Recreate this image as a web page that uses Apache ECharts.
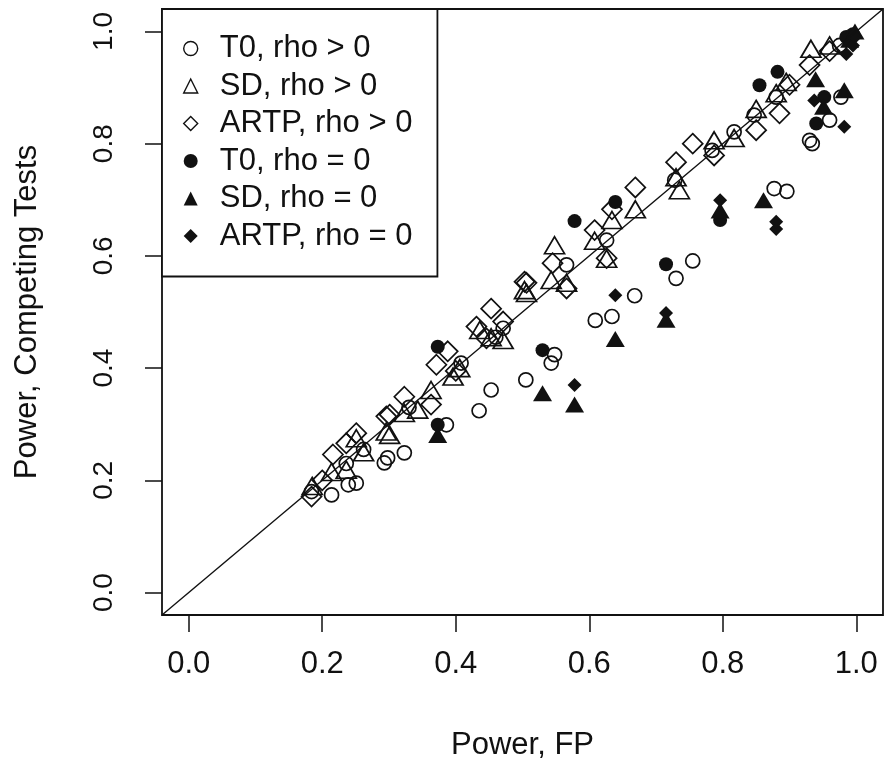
<!DOCTYPE html>
<html>
<head>
<meta charset="utf-8">
<script src="https://cdn.jsdelivr.net/npm/echarts@6/dist/echarts.min.js"></script>
<style>html,body{margin:0;padding:0;background:#fff}#c{width:884px;height:767px}</style>
</head>
<body>
<div id="c"></div>
<script>
// ---- data: [Power FP, Power competing test] ----
const t0RhoPos = [[0.184,0.180],[0.214,0.174],[0.236,0.230],[0.239,0.192],[0.251,0.195],[0.262,0.255],[0.293,0.231],[0.298,0.240],[0.323,0.249],[0.330,0.330],[0.386,0.299],[0.408,0.409],[0.435,0.324],[0.453,0.361],[0.460,0.455],[0.471,0.471],[0.505,0.379],[0.543,0.409],[0.548,0.424],[0.566,0.584],[0.609,0.485],[0.626,0.628],[0.634,0.492],[0.668,0.529],[0.728,0.735],[0.730,0.560],[0.755,0.591],[0.784,0.788],[0.817,0.821],[0.847,0.851],[0.877,0.720],[0.880,0.883],[0.896,0.715],[0.930,0.806],[0.934,0.800],[0.960,0.842],[0.977,0.883],[0.975,0.975]];
const sdRhoPos = [[0.185,0.190],[0.214,0.215],[0.236,0.219],[0.251,0.275],[0.262,0.250],[0.296,0.287],[0.301,0.281],[0.323,0.320],[0.343,0.326],[0.363,0.361],[0.396,0.385],[0.406,0.400],[0.436,0.468],[0.453,0.455],[0.471,0.450],[0.503,0.539],[0.506,0.534],[0.543,0.557],[0.548,0.619],[0.566,0.552],[0.608,0.627],[0.626,0.595],[0.634,0.664],[0.669,0.683],[0.730,0.740],[0.735,0.717],[0.787,0.806],[0.817,0.810],[0.850,0.862],[0.880,0.890],[0.895,0.910],[0.932,0.969],[0.960,0.975]];
const artpRhoPos = [[0.184,0.171],[0.200,0.200],[0.216,0.246],[0.236,0.266],[0.251,0.284],[0.296,0.314],[0.301,0.317],[0.323,0.349],[0.363,0.335],[0.371,0.406],[0.388,0.430],[0.400,0.395],[0.431,0.474],[0.446,0.453],[0.453,0.506],[0.471,0.483],[0.503,0.554],[0.506,0.552],[0.545,0.587],[0.566,0.542],[0.608,0.646],[0.626,0.596],[0.634,0.683],[0.669,0.722],[0.730,0.767],[0.755,0.800],[0.787,0.779],[0.850,0.824],[0.885,0.854],[0.900,0.905],[0.930,0.940],[0.960,0.965]];
const t0RhoZero = [[0.373,0.438],[0.373,0.299],[0.530,0.432],[0.578,0.662],[0.639,0.696],[0.715,0.585],[0.796,0.664],[0.855,0.904],[0.882,0.928],[0.940,0.836],[0.952,0.883],[0.985,0.990],[0.995,0.995]];
const sdRhoZero = [[0.373,0.281],[0.530,0.355],[0.578,0.335],[0.639,0.452],[0.715,0.486],[0.796,0.681],[0.861,0.699],[0.939,0.915],[0.951,0.866],[0.982,0.895],[0.990,0.985],[0.998,1.000]];
const artpRhoZero = [[0.578,0.370],[0.639,0.530],[0.715,0.498],[0.796,0.699],[0.880,0.648],[0.880,0.661],[0.937,0.877],[0.982,0.830],[0.985,0.960],[0.995,0.975],[0.998,0.990]];
const seriesNames = ['T0, rho > 0','SD, rho > 0','ARTP, rho > 0','T0, rho = 0','SD, rho = 0','ARTP, rho = 0'];
const tickValues = [0, 0.2, 0.4, 0.6, 0.8, 1.0];
const axisRange = [-0.04, 1.04];
const identityLine = [[-0.04,-0.04],[1.04,1.04]];
const xTitle = 'Power, FP';
const yTitle = 'Power, Competing Tests';

const FONT = 'Liberation Sans, Arial, sans-serif';
const INK = '#111';
const openStyle = {color:'rgba(0,0,0,0)', borderColor:INK, borderWidth:1.7, opacity:1};
const fillStyle = {color:INK, borderWidth:0, opacity:1};

function mk(name, data, symbol, size, style){
  return {name, type:'scatter', data, symbol, symbolSize:size, itemStyle:style,
          emphasis:{disabled:true}, z:2};
}
const chart = echarts.init(document.getElementById('c'), null, {renderer:'canvas'});
const axisCommon = {
  type:'value', min:axisRange[0], max:axisRange[1],
  axisLine:{show:false, onZero:false},
  splitLine:{show:false},
  axisTick:{show:true, customValues:tickValues, length:17, lineStyle:{color:INK, width:1.5}},
  axisLabel:{customValues:tickValues, formatter:v=>v.toFixed(1), fontFamily:FONT, fontSize:31, color:INK},
  nameLocation:'middle', nameTextStyle:{fontFamily:FONT, fontSize:31, color:INK}
};
chart.setOption({
  animation:false,
  backgroundColor:'#fff',
  grid:{left:162, right:1, top:9, bottom:152, show:true, borderColor:INK, borderWidth:1.8, backgroundColor:'transparent'},
  xAxis:Object.assign({}, axisCommon, {name:xTitle, nameGap:115,
     axisLabel:Object.assign({}, axisCommon.axisLabel, {margin:34})}),
  yAxis:Object.assign({}, axisCommon, {name:yTitle, nameGap:119,
     axisLabel:Object.assign({}, axisCommon.axisLabel, {rotate:90, margin:44, fontSize:28})}),
  legend:{
    orient:'vertical', left:162, top:9,
    padding:[24,25,25,21], itemGap:6.5, itemWidth:14, itemHeight:14,
    borderColor:INK, borderWidth:1.8, backgroundColor:'#fff',
    textStyle:{fontFamily:FONT, fontSize:31, color:INK, lineHeight:31, padding:[0,0,0,17]},
    data:[
      {name:seriesNames[0], icon:'circle', itemStyle:{color:'rgba(0,0,0,0)', borderColor:INK, borderWidth:1.4}},
      {name:seriesNames[1], icon:'triangle', itemStyle:{color:'rgba(0,0,0,0)', borderColor:INK, borderWidth:1.4}},
      {name:seriesNames[2], icon:'diamond', itemStyle:{color:'rgba(0,0,0,0)', borderColor:INK, borderWidth:1.4}},
      {name:seriesNames[3], icon:'circle', itemStyle:{color:INK, borderWidth:0}},
      {name:seriesNames[4], icon:'triangle', itemStyle:{color:INK, borderWidth:0}},
      {name:seriesNames[5], icon:'diamond', itemStyle:{color:INK, borderWidth:0}}
    ],
    selectedMode:false
  },
  series:[
    mk(seriesNames[0], t0RhoPos, 'circle', 14, openStyle),
    mk(seriesNames[1], sdRhoPos, 'triangle', [20,17], openStyle),
    mk(seriesNames[2], artpRhoPos, 'diamond', [20,20], openStyle),
    mk(seriesNames[3], t0RhoZero, 'circle', 14, fillStyle),
    mk(seriesNames[4], sdRhoZero, 'triangle', [19,16], fillStyle),
    mk(seriesNames[5], artpRhoZero, 'diamond', [14,14], fillStyle),
    {type:'line', data:identityLine, symbol:'none', silent:true, z:3,
     lineStyle:{color:INK, width:1.4}, tooltip:{show:false}}
  ]
});
</script>
</body>
</html>
